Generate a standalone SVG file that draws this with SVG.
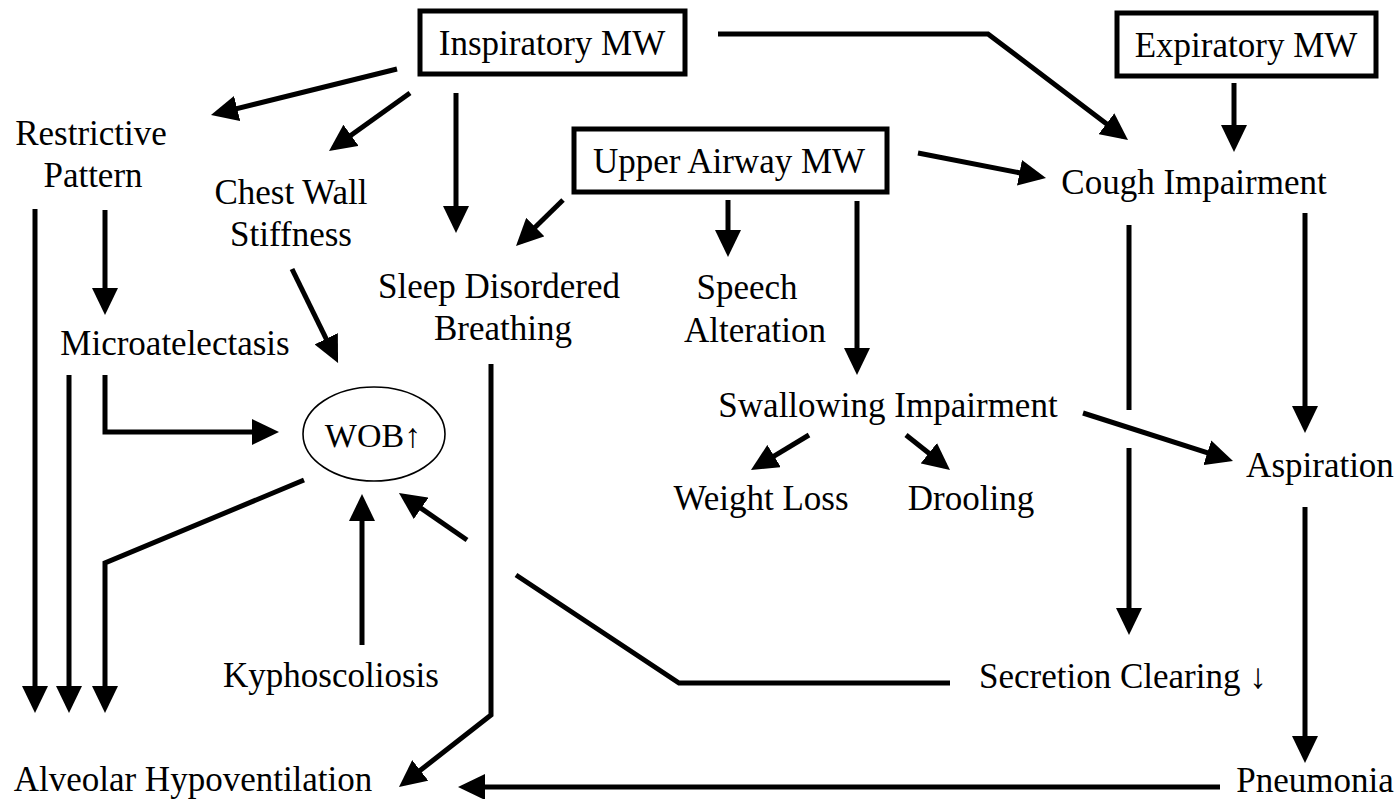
<svg xmlns="http://www.w3.org/2000/svg" width="1397" height="799" viewBox="0 0 1397 799">
<defs>
<marker id="ah" markerUnits="userSpaceOnUse" markerWidth="27" markerHeight="26" viewBox="0 0 27 26" refX="21" refY="13" orient="auto">
<path d="M0,0 L27,13 L0,26 z" fill="#000"/>
</marker>
<style>
text{font-family:"Liberation Serif","Times New Roman",serif;font-size:35px;fill:#000;}
.m{text-anchor:middle;}
.box{fill:#fff;stroke:#000;stroke-width:5;}
.c line,.c polyline{fill:none;stroke:#000;stroke-width:5;stroke-linejoin:miter;}
.a{marker-end:url(#ah);}
</style>
</defs>
<rect width="1397" height="799" fill="#fff"/>
<g class="c" id="connectors">
<line class="a" x1="397" y1="69" x2="216.8" y2="113.6"/>
<line class="a" x1="410" y1="93" x2="333.9" y2="147.5"/>
<line class="a" x1="456" y1="93" x2="456" y2="227"/>
<line class="a" x1="563" y1="200" x2="520.3" y2="241.8"/>
<line class="a" x1="105" y1="210" x2="105" y2="309"/>
<line class="a" x1="35" y1="209" x2="35" y2="707"/>
<line class="a" x1="292" y1="269" x2="335.4" y2="357.6"/>
<polyline class="a" points="491,364 491,715 403.7,783.3"/>
<line class="a" x1="69" y1="375" x2="69" y2="707"/>
<polyline class="a" points="105,375 105,432 273,432"/>
<polyline class="a" points="304,480 105,563 105,707"/>
<line class="a" x1="362" y1="645" x2="362" y2="500"/>
<polyline points="950,683 679,683 516,575"/>
<line class="a" x1="467" y1="540" x2="403.9" y2="496.4"/>
<line class="a" x1="1220" y1="787" x2="464" y2="787"/>
<polyline class="a" points="718,34 988,34 1123.2,136.4"/>
<line class="a" x1="1234" y1="83" x2="1234" y2="146"/>
<line class="a" x1="918" y1="153" x2="1040.1" y2="176.8"/>
<line class="a" x1="728" y1="200" x2="728" y2="251"/>
<line class="a" x1="857" y1="201" x2="857" y2="369"/>
<line x1="1129" y1="225" x2="1129" y2="410"/>
<line class="a" x1="1129" y1="448" x2="1129" y2="629"/>
<line class="a" x1="1305" y1="213" x2="1305" y2="427"/>
<line class="a" x1="1083" y1="413" x2="1227.3" y2="459.2"/>
<line class="a" x1="809" y1="435" x2="756.1" y2="466.9"/>
<line class="a" x1="906" y1="435" x2="945.3" y2="466.3"/>
<line class="a" x1="1305" y1="507" x2="1305" y2="757"/>
</g>
<g id="inspiratory"><rect class="box" x="420" y="11" width="265" height="63"/><text class="m" x="552" y="55">Inspiratory MW</text></g>
<g id="expiratory"><rect class="box" x="1117" y="13" width="259" height="63"/><text class="m" x="1246" y="57">Expiratory MW</text></g>
<g id="upperairway"><rect class="box" x="574" y="129" width="313" height="63"/><text class="m" x="729" y="173">Upper Airway MW</text></g>
<g id="restrictive"><text class="m" x="91" y="145">Restrictive</text><text class="m" x="93" y="187">Pattern</text></g>
<g id="chestwall"><text class="m" x="291" y="204">Chest Wall</text><text class="m" x="291" y="246">Stiffness</text></g>
<g id="sleep"><text class="m" x="499" y="298">Sleep Disordered</text><text class="m" x="503" y="340">Breathing</text></g>
<g id="speech"><text class="m" x="747" y="299">Speech</text><text class="m" x="755" y="342">Alteration</text></g>
<g id="cough"><text class="m" x="1194" y="194">Cough Impairment</text></g>
<g id="micro"><text class="m" x="175" y="355">Microatelectasis</text></g>
<g id="wob"><ellipse cx="374" cy="434" rx="71" ry="47" fill="none" stroke="#000" stroke-width="1.6"/><text class="m" x="373" y="447" style="font-size:34px">WOB↑</text></g>
<g id="swallowing"><text class="m" x="888" y="417">Swallowing Impairment</text></g>
<g id="weightloss"><text class="m" x="761" y="510">Weight Loss</text></g>
<g id="drooling"><text class="m" x="971" y="510">Drooling</text></g>
<g id="aspiration"><text class="m" x="1320" y="477">Aspiration</text></g>
<g id="kypho"><text class="m" x="331" y="687">Kyphoscoliosis</text></g>
<g id="secretion"><text x="979" y="688">Secretion Clearing ↓</text></g>
<g id="alveolar"><text class="m" x="193" y="791">Alveolar Hypoventilation</text></g>
<g id="pneumonia"><text class="m" x="1315" y="792">Pneumonia</text></g>
</svg>
